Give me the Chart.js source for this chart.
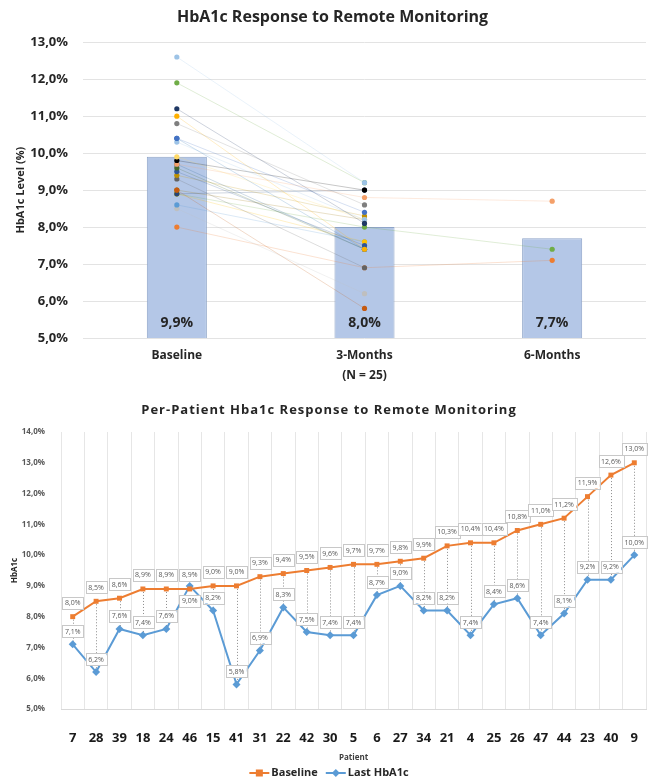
<!DOCTYPE html>
<html>
<head>
<meta charset="utf-8">
<script src="https://cdn.jsdelivr.net/npm/chart.js@4.4.0/dist/chart.umd.min.js"></script>
<style>
    html, body { margin: 0; background: #fff; overflow: hidden; }
    .box { position: relative; width: 650px; }
    #box-top { height: 390px; }
    #box-bottom { height: 391px; }
</style>
</head>
<body>
<div class="box" id="box-top"><canvas id="chart-top"></canvas></div>
<div class="box" id="box-bottom"><canvas id="chart-bottom"></canvas></div>
<script>
// DATA
var stages = ["Baseline", ["3-Months", "(N = 25)"], "6-Months"];
var stageMeans = [9.9, 8.0, 7.7];

var patients = ["7", "28", "39", "18", "24", "46", "15", "41", "31", "22", "42", "30", "5",
    "6", "27", "34", "21", "4", "25", "26", "47", "44", "23", "40", "9"];
var baseline = [8.0, 8.5, 8.6, 8.9, 8.9, 8.9, 9.0, 9.0, 9.3, 9.4, 9.5, 9.6, 9.7,
    9.7, 9.8, 9.9, 10.3, 10.4, 10.4, 10.8, 11.0, 11.2, 11.9, 12.6, 13.0];
var lastHba1c = [7.1, 6.2, 7.6, 7.4, 7.6, 9.0, 8.2, 5.8, 6.9, 8.3, 7.5, 7.4, 7.4,
    8.7, 9.0, 8.2, 8.2, 7.4, 8.4, 8.6, 7.4, 8.1, 9.2, 9.2, 10.0];

// top chart dots (patient 9 is not plotted there)
var topBaseline = [8.0, 8.5, 8.6, 8.9, 8.9, 8.9, 9.0, 9.0, 9.3, 9.4, 9.5, 9.6, 9.7,
    9.7, 9.8, 9.9, 10.3, 10.4, 10.4, 10.8, 11.0, 11.2, 11.9, 12.6, null];
var topThreeMonths = [6.9, 6.2, 7.6, 8.0, 7.6, 9.0, 8.2, 5.8, 6.9, 8.3, 7.5, 7.4, 7.4,
    8.8, 9.0, 8.2, 8.2, 7.4, 8.4, 8.6, 7.4, 8.1, 9.2, 9.2, null];
var topSixMonths = [7.1, null, null, 7.4, null, null, null, null, null, null, null, null, null,
    8.7, null, null, null, null, null, null, null, null, null, null, null];

var patientColors = ["#ed7d31", "#bfbfbf", "#5b9bd5", "#70ad47", "#ffc000", "#264478",
    "#997300", "#c55a11", "#636363", "#bf9000", "#2f5597", "#43682b", "#255e91",
    "#f4a06a", "#000000", "#ffd966", "#9dc3e6", "#2e75b6", "#4472c4", "#7f7f7f",
    "#ffb000", "#1f3864", "#70ad47", "#9dc3e6", "#5b9bd5"];

var FONT = "'Open Sans', 'Liberation Sans', sans-serif";

function pct(v) {
    return v.toFixed(1).replace(".", ",") + "%";
}

function fade(hex, a) {
    var n = parseInt(hex.slice(1), 16);
    return "rgba(" + (n >> 16) + "," + ((n >> 8) & 255) + "," + (n & 255) + "," + a + ")";
}

// TOP CHART
var barLabels = {
    id: "barLabels",
    afterDatasetsDraw: function (chart) {
        var ctx = chart.ctx;
        var idx = chart.data.datasets.length - 1;
        var meta = chart.getDatasetMeta(idx);
        ctx.save();
        ctx.font = "bold 14px " + FONT;
        ctx.fillStyle = "#262626";
        ctx.textAlign = "center";
        ctx.textBaseline = "middle";
        meta.data.forEach(function (bar, i) {
            ctx.fillText(pct(stageMeans[i]), bar.x, chart.chartArea.bottom - 15);
        });
        ctx.restore();
    }
};

// drawn last-first by Chart.js, so push in reverse to keep the lighter dots on top
var topSets = [];
patients.forEach(function (p, i) {
    if (topBaseline[i] === null) return;
    topSets.unshift({
        type: "line",
        label: p,
        data: [topBaseline[i], topThreeMonths[i], topSixMonths[i]],
        borderColor: fade(patientColors[i], 0.22),
        borderWidth: 1,
        pointRadius: 2.6,
        pointBorderWidth: 0,
        pointBackgroundColor: patientColors[i],
        spanGaps: false,
        order: 0
    });
});
topSets.push({
    type: "bar",
    label: "Mean",
    data: stageMeans,
    backgroundColor: "#b4c7e7",
    borderColor: "#8ea4c8",
    borderWidth: 1,
    categoryPercentage: 1,
    barPercentage: 0.32,
    order: 10
});

new Chart(document.getElementById("chart-top"), {
    type: "bar",
    data: { labels: stages, datasets: topSets },
    options: {
        responsive: true,
        maintainAspectRatio: false,
        animation: false,
        layout: { padding: { left: 12, right: -3, top: 0, bottom: 0 } },
        plugins: {
            legend: { display: false },
            tooltip: { enabled: false },
            title: {
                display: true,
                text: "HbA1c Response to Remote Monitoring",
                color: "#262626",
                font: { family: FONT, size: 16, weight: "bold" },
                padding: { top: 8, bottom: 15 }
            }
        },
        scales: {
            x: {
                grid: { display: false, drawTicks: false },
                border: { display: false },
                afterFit: function (s) { s.height = 52; },
                ticks: {
                    color: "#262626",
                    padding: 8,
                    font: { family: FONT, size: 12, weight: "bold", lineHeight: "20px" }
                }
            },
            y: {
                min: 5,
                max: 13,
                afterFit: function (s) { s.width = 71; },
                ticks: {
                    stepSize: 1,
                    color: "#262626",
                    padding: 15,
                    font: { family: FONT, size: 13, weight: "bold" },
                    callback: function (v) { return pct(v); }
                },
                grid: { color: "#e3e3e3", drawTicks: false },
                border: { display: false },
                title: {
                    display: true,
                    text: "HbA1c Level (%)",
                    color: "#262626",
                    font: { family: FONT, size: 11, weight: "bold" },
                    padding: 2
                }
            }
        }
    },
    plugins: [barLabels]
});

// BOTTOM CHART
function drawLegendIcon(ctx, x, y, color, style) {
    ctx.strokeStyle = color;
    ctx.lineWidth = 2;
    ctx.beginPath();
    ctx.moveTo(x, y);
    ctx.lineTo(x + 20, y);
    ctx.stroke();
    ctx.fillStyle = color;
    if (style === "rect") {
        ctx.fillRect(x + 6.5, y - 3.5, 7, 7);
    } else {
        ctx.beginPath();
        ctx.moveTo(x + 10, y - 4);
        ctx.lineTo(x + 14, y);
        ctx.lineTo(x + 10, y + 4);
        ctx.lineTo(x + 6, y);
        ctx.closePath();
        ctx.fill();
    }
}

var titleAndLegend = {
    id: "titleAndLegend",
    afterDraw: function (chart) {
        var ctx = chart.ctx;
        ctx.save();
        ctx.letterSpacing = "1px";
        ctx.font = "bold 13px " + FONT;
        ctx.fillStyle = "#262626";
        ctx.textAlign = "center";
        ctx.textBaseline = "middle";
        ctx.fillText("Per-Patient Hba1c Response to Remote Monitoring", 329, 20);
        ctx.letterSpacing = "0px";

        // legend
        var items = [
            { text: "Baseline", color: "#ed7d31", style: "rect" },
            { text: "Last HbA1c", color: "#5b9bd5", style: "diamond" }
        ];
        ctx.font = "bold 11px " + FONT;
        ctx.textAlign = "left";
        var total = 0;
        items.forEach(function (it, i) {
            it.w = 22 + ctx.measureText(it.text).width;
            total += it.w + (i ? 8 : 0);
        });
        var x = 329 - total / 2, y = 383;
        items.forEach(function (it) {
            drawLegendIcon(ctx, x, y, it.color, it.style);
            ctx.fillStyle = "#262626";
            ctx.fillText(it.text, x + 22, y);
            x += it.w + 8;
        });
        ctx.restore();
    }
};

var dropLines = {
    id: "dropLines",
    beforeDatasetsDraw: function (chart) {
        var ctx = chart.ctx, xs = chart.scales.x, ys = chart.scales.y;
        ctx.save();
        ctx.strokeStyle = "#8c8c8c";
        ctx.lineWidth = 1;
        ctx.setLineDash([1, 2]);
        patients.forEach(function (p, i) {
            var x = Math.round(xs.getPixelForValue(i)) + 0.5;
            ctx.beginPath();
            ctx.moveTo(x, ys.getPixelForValue(baseline[i]));
            ctx.lineTo(x, ys.getPixelForValue(lastHba1c[i]));
            ctx.stroke();
        });
        ctx.restore();
    },
    afterDatasetsDraw: function (chart) {
        var ctx = chart.ctx, xs = chart.scales.x, ys = chart.scales.y;
        ctx.save();
        ctx.font = "7px " + FONT;
        ctx.textAlign = "center";
        ctx.textBaseline = "middle";
        function box(txt, x, y) {
            var w = ctx.measureText(txt).width + 5;
            ctx.fillStyle = "#fff";
            ctx.fillRect(x - w / 2, y - 6, w, 12);
            ctx.strokeStyle = "#c8c8c8";
            ctx.lineWidth = 1;
            ctx.strokeRect(Math.round(x - w / 2) + 0.5, Math.round(y - 6) + 0.5, Math.round(w), 12);
            ctx.fillStyle = "#595959";
            ctx.fillText(txt, x, y + 0.5);
        }
        patients.forEach(function (p, i) {
            var x = xs.getPixelForValue(i);
            box(pct(baseline[i]), x, ys.getPixelForValue(baseline[i]) - 14);
            var yl = ys.getPixelForValue(lastHba1c[i]);
            if (lastHba1c[i] >= baseline[i]) {
                box(pct(lastHba1c[i]), x, yl + 15);
            } else {
                box(pct(lastHba1c[i]), x, yl - 13);
            }
        });
        ctx.restore();
    }
};

new Chart(document.getElementById("chart-bottom"), {
    type: "line",
    data: {
        labels: patients,
        datasets: [
            {
                label: "Baseline",
                data: baseline,
                borderColor: "#ed7d31",
                backgroundColor: "#ed7d31",
                borderWidth: 2,
                pointStyle: "rect",
                pointRadius: 3.5,
                pointBorderWidth: 0,
                tension: 0
            },
            {
                label: "Last HbA1c",
                data: lastHba1c,
                borderColor: "#5b9bd5",
                backgroundColor: "#5b9bd5",
                borderWidth: 2,
                pointStyle: "rectRot",
                pointRadius: 4,
                pointBorderWidth: 0,
                tension: 0
            }
        ]
    },
    options: {
        responsive: true,
        maintainAspectRatio: false,
        animation: false,
        layout: { padding: { left: 8, right: 4, top: 42, bottom: 0 } },
        plugins: {
            tooltip: { enabled: false },
            title: { display: false },
            legend: { display: false }
        },
        scales: {
            x: {
                offset: true,
                grid: { offset: true, color: "#e6e6e6", drawTicks: true, tickLength: 21, tickColor: "rgba(0,0,0,0)" },
                border: { display: true, color: "#d9d9d9" },
                afterFit: function (s) { s.height = 72; },
                ticks: {
                    color: "#1a1a1a",
                    padding: 0,
                    autoSkip: false,
                    maxRotation: 0,
                    font: { family: FONT, size: 13, weight: "bold" }
                },
                title: {
                    display: true,
                    text: "Patient",
                    color: "#404040",
                    font: { family: FONT, size: 8, weight: "bold" },
                    padding: { top: 4, bottom: 18 }
                }
            },
            y: {
                min: 5,
                max: 14,
                afterFit: function (s) { s.width = 53; },
                grid: { display: false },
                border: { display: false },
                ticks: {
                    stepSize: 1,
                    color: "#595959",
                    padding: 8,
                    font: { family: FONT, size: 8, weight: "bold" },
                    callback: function (v) { return pct(v); }
                },
                title: {
                    display: true,
                    text: "HbA1c",
                    color: "#262626",
                    font: { family: FONT, size: 8, weight: "bold" },
                    padding: 2
                }
            }
        }
    },
    plugins: [dropLines, titleAndLegend]
});
</script>
</body>
</html>
